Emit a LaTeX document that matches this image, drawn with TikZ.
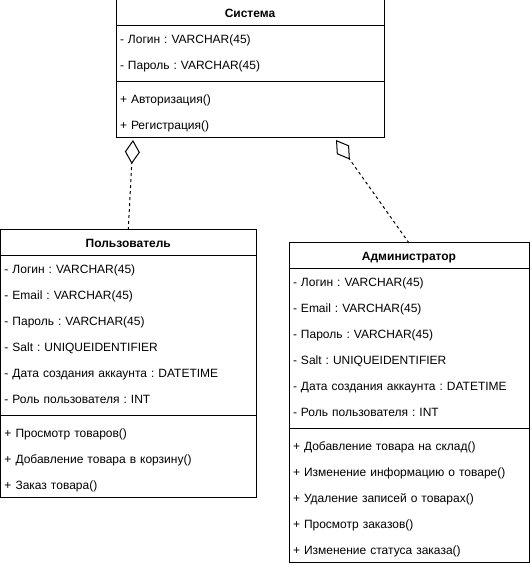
\documentclass[tikz,border=0pt]{standalone}
\usepackage{fontspec}
\setmainfont{Liberation Sans}
\usetikzlibrary{positioning,arrows.meta}
\frenchspacing

% one table row, 26pt high (attributes sit high, methods sit low)
\newcommand{\attrrow}{\rule[-10.7pt]{0pt}{26pt}}
\newcommand{\methrow}{\rule[-6.7pt]{0pt}{26pt}}

\begin{document}
\begin{tikzpicture}[x=1pt,y=1pt,
    classhead/.style={draw, line width=1pt, inner xsep=4pt, inner ysep=0pt, outer sep=0pt,
        minimum height=26pt, text height=8.6pt, text depth=0pt,
        font=\fontsize{12}{26}\selectfont\bfseries},
    classpart/.style={draw, line width=1pt, inner xsep=4pt, inner ysep=0pt, outer sep=0pt,
        align=left, font=\fontsize{12}{26}\selectfont},
    aggr/.style={line width=1pt, dash pattern=on 3pt off 3pt,
        -{Diamond[open,length=24pt,width=15pt,line width=1pt]}}]
    \fill[white] (0,0) rectangle (530,567);
    \useasboundingbox (0,0) rectangle (530,567);

    % Система
    \node[classhead, minimum width=268pt, anchor=north west] (sys) at (116,567) {Система};
    \node[classpart, text width=260pt, minimum height=56pt, below=0pt of sys] (sysattr)
        {\attrrow- Логин : VARCHAR(45)\\
         \attrrow- Пароль : VARCHAR(45)};
    \node[classpart, text width=260pt, minimum height=56pt, below=0pt of sysattr] (sysmeth)
        {\methrow+ Авторизация()\\
         \methrow+ Регистрация()};

    % Пользователь
    \node[classhead, minimum width=255.5pt, anchor=north west] (user) at (0.5,337) {Пользователь};
    \node[classpart, text width=247.5pt, minimum height=160pt, below=0pt of user] (userattr)
        {\attrrow- Логин : VARCHAR(45)\\
         \attrrow- Email : VARCHAR(45)\\
         \attrrow- Пароль : VARCHAR(45)\\
         \attrrow- Salt : UNIQUEIDENTIFIER\\
         \attrrow- Дата создания аккаунта : DATETIME\\
         \attrrow- Роль пользователя : INT};
    \node[classpart, text width=247.5pt, minimum height=82pt, below=0pt of userattr] (usermeth)
        {\methrow+ Просмотр товаров()\\
         \methrow+ Добавление товара в корзину()\\
         \methrow+ Заказ товара()};

    % Администратор
    \node[classhead, minimum width=240pt, anchor=north west] (admin) at (289,324) {Администратор};
    \node[classpart, text width=232pt, minimum height=160pt, below=0pt of admin] (adminattr)
        {\attrrow- Логин : VARCHAR(45)\\
         \attrrow- Email : VARCHAR(45)\\
         \attrrow- Пароль : VARCHAR(45)\\
         \attrrow- Salt : UNIQUEIDENTIFIER\\
         \attrrow- Дата создания аккаунта : DATETIME\\
         \attrrow- Роль пользователя : INT};
    \node[classpart, text width=232pt, minimum height=134pt, below=0pt of adminattr] (adminmeth)
        {\methrow+ Добавление товара на склад()\\
         \methrow+ Изменение информацию о товаре()\\
         \methrow+ Удаление записей о товарах()\\
         \methrow+ Просмотр заказов()\\
         \methrow+ Изменение статуса заказа()};

    % aggregation links
    \draw[aggr] (user.north) -- ([xshift=17pt,yshift=-2pt]sysmeth.south west);
    \draw[aggr] (admin.north) -- ([xshift=220pt,yshift=-2pt]sysmeth.south west);
\end{tikzpicture}
\end{document}
